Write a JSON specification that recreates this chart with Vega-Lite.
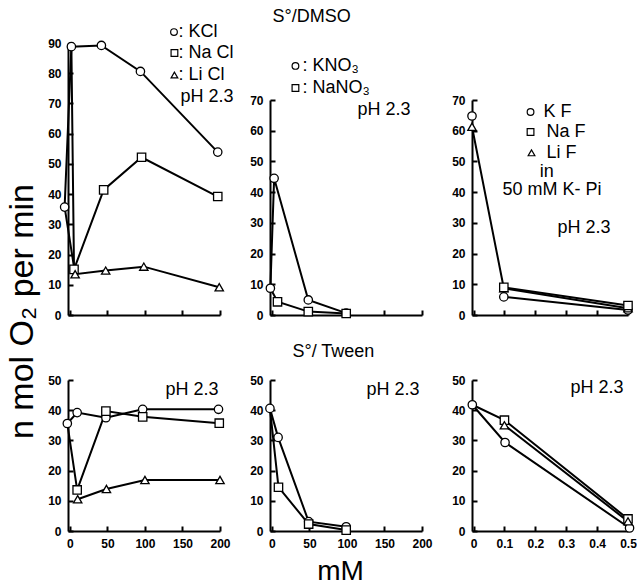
{
  "$schema": "https://vega.github.io/schema/vega-lite/v6.json",
  "padding": {"left": 5, "top": 8, "right": 0, "bottom": 0},
  "background": "white",
  "config": {
    "view": {"stroke": null},
    "font": "Liberation Sans",
    "axis": {"grid": false, "domainColor": "black", "domainWidth": 2, "tickColor": "black", "tickWidth": 2, "tickSize": -5,
      "labelFont": "Liberation Sans", "labelFontWeight": "bold", "labelFontSize": 12, "labelColor": "black", "labelPadding": 12,
      "labelFlush": false, "labelOverlap": false, "titleColor": "black", "titleFont": "Liberation Sans", "titleFontWeight": "normal"}
  },
  "datasets": {
    "obs": [
      {"panel": 1, "cation": "K", "line": "KCl", "role": "m", "x": -7, "y": 35.7},
      {"panel": 1, "cation": "K", "line": "KCl", "role": "m", "x": 2, "y": 88.8},
      {"panel": 1, "cation": "K", "line": "KCl", "role": "m", "x": 42, "y": 89.2},
      {"panel": 1, "cation": "K", "line": "KCl", "role": "m", "x": 94, "y": 80.6},
      {"panel": 1, "cation": "K", "line": "KCl", "role": "m", "x": 197, "y": 53.9},
      {"panel": 1, "cation": "Na", "line": "NaCl", "role": "c", "x": 2, "y": 88.8},
      {"panel": 1, "cation": "Na", "line": "NaCl", "role": "m", "x": 5.5, "y": 15.1},
      {"panel": 1, "cation": "Na", "line": "NaCl", "role": "m", "x": 45, "y": 41.4},
      {"panel": 1, "cation": "Na", "line": "NaCl", "role": "m", "x": 95.5, "y": 52.2},
      {"panel": 1, "cation": "Na", "line": "NaCl", "role": "m", "x": 197, "y": 39.2},
      {"panel": 1, "cation": "Li", "line": "LiCl", "role": "c", "x": -7, "y": 35.7},
      {"panel": 1, "cation": "Li", "line": "LiCl", "role": "m", "x": 7, "y": 13.5},
      {"panel": 1, "cation": "Li", "line": "LiCl", "role": "m", "x": 47.7, "y": 14.7},
      {"panel": 1, "cation": "Li", "line": "LiCl", "role": "m", "x": 98.5, "y": 16},
      {"panel": 1, "cation": "Li", "line": "LiCl", "role": "m", "x": 199, "y": 9.2},

      {"panel": 2, "cation": "K", "line": "KNO3", "role": "m", "x": -2, "y": 8.7},
      {"panel": 2, "cation": "K", "line": "KNO3", "role": "m", "x": 3, "y": 44.5},
      {"panel": 2, "cation": "K", "line": "KNO3", "role": "m", "x": 48.5, "y": 4.9},
      {"panel": 2, "cation": "K", "line": "KNO3", "role": "m", "x": 99, "y": 0.6},
      {"panel": 2, "cation": "Na", "line": "NaNO3", "role": "c", "x": -2, "y": 8.7},
      {"panel": 2, "cation": "Na", "line": "NaNO3", "role": "m", "x": 7.5, "y": 4.3},
      {"panel": 2, "cation": "Na", "line": "NaNO3", "role": "m", "x": 48.5, "y": 1.1},
      {"panel": 2, "cation": "Na", "line": "NaNO3", "role": "m", "x": 99, "y": 0.5},

      {"panel": 3, "cation": "K", "line": "KF control", "role": "m", "x": -0.005, "y": 64.8},
      {"panel": 3, "cation": "K", "line": "KF", "role": "m", "x": 0.098, "y": 5.9},
      {"panel": 3, "cation": "K", "line": "KF", "role": "m", "x": 0.5, "y": 1.6},
      {"panel": 3, "cation": "Li", "line": "LiF", "role": "m", "x": -0.005, "y": 61.3},
      {"panel": 3, "cation": "Li", "line": "LiF", "role": "m", "x": 0.098, "y": 8.7},
      {"panel": 3, "cation": "Li", "line": "LiF", "role": "m", "x": 0.5, "y": 2.2},
      {"panel": 3, "cation": "Na", "line": "NaF", "role": "m", "x": 0.098, "y": 9.0},
      {"panel": 3, "cation": "Na", "line": "NaF", "role": "m", "x": 0.5, "y": 3.1},

      {"panel": 4, "cation": "K", "line": "KCl", "role": "m", "x": -3.4, "y": 35.6},
      {"panel": 4, "cation": "K", "line": "KCl", "role": "m", "x": 9.7, "y": 39.2},
      {"panel": 4, "cation": "K", "line": "KCl", "role": "m", "x": 48, "y": 37.5},
      {"panel": 4, "cation": "K", "line": "KCl", "role": "m", "x": 97, "y": 40.3},
      {"panel": 4, "cation": "K", "line": "KCl", "role": "m", "x": 198, "y": 40.3},
      {"panel": 4, "cation": "Na", "line": "NaCl", "role": "c", "x": -3.4, "y": 35.6},
      {"panel": 4, "cation": "Na", "line": "NaCl", "role": "m", "x": 9.7, "y": 13.6},
      {"panel": 4, "cation": "Na", "line": "NaCl", "role": "m", "x": 48, "y": 39.7},
      {"panel": 4, "cation": "Na", "line": "NaCl", "role": "m", "x": 97, "y": 37.8},
      {"panel": 4, "cation": "Na", "line": "NaCl", "role": "m", "x": 199, "y": 35.7},
      {"panel": 4, "cation": "Li", "line": "LiCl", "role": "m", "x": 10.4, "y": 10.5},
      {"panel": 4, "cation": "Li", "line": "LiCl", "role": "m", "x": 48.7, "y": 13.9},
      {"panel": 4, "cation": "Li", "line": "LiCl", "role": "m", "x": 100, "y": 16.9},
      {"panel": 4, "cation": "Li", "line": "LiCl", "role": "m", "x": 200, "y": 16.9},

      {"panel": 5, "cation": "K", "line": "KNO3", "role": "m", "x": -2.6, "y": 40.6},
      {"panel": 5, "cation": "K", "line": "KNO3", "role": "m", "x": 8.3, "y": 31},
      {"panel": 5, "cation": "K", "line": "KNO3", "role": "m", "x": 49, "y": 3.1},
      {"panel": 5, "cation": "K", "line": "KNO3", "role": "m", "x": 99, "y": 1.4},
      {"panel": 5, "cation": "Na", "line": "NaNO3", "role": "c", "x": -2.6, "y": 40.6},
      {"panel": 5, "cation": "Na", "line": "NaNO3", "role": "m", "x": 8.8, "y": 14.5},
      {"panel": 5, "cation": "Na", "line": "NaNO3", "role": "m", "x": 49, "y": 2.3},
      {"panel": 5, "cation": "Na", "line": "NaNO3", "role": "m", "x": 99, "y": 0.3},

      {"panel": 6, "cation": "K", "line": "KF", "role": "m", "x": -0.004, "y": 41.8},
      {"panel": 6, "cation": "K", "line": "KF", "role": "m", "x": 0.102, "y": 29.3},
      {"panel": 6, "cation": "K", "line": "KF", "role": "m", "x": 0.505, "y": 1.0},
      {"panel": 6, "cation": "Na", "line": "NaF", "role": "c", "x": -0.004, "y": 41.8},
      {"panel": 6, "cation": "Na", "line": "NaF", "role": "m", "x": 0.1, "y": 36.7},
      {"panel": 6, "cation": "Na", "line": "NaF", "role": "m", "x": 0.5, "y": 4.0},
      {"panel": 6, "cation": "Li", "line": "LiF", "role": "m", "x": 0.1, "y": 35.0},
      {"panel": 6, "cation": "Li", "line": "LiF", "role": "m", "x": 0.5, "y": 3.2}
    ],
    "keys": [
      {"panel": 1, "cation": "K", "x": 138.7, "y": 93.6},
      {"panel": 1, "cation": "Na", "x": 139.3, "y": 86.7},
      {"panel": 1, "cation": "Li", "x": 139.3, "y": 79.4},
      {"panel": 2, "cation": "K", "x": 31.4, "y": 81.1},
      {"panel": 2, "cation": "Na", "x": 31.4, "y": 73.9},
      {"panel": 3, "cation": "K", "x": 0.1845, "y": 66.1},
      {"panel": 3, "cation": "Na", "x": 0.1845, "y": 59.6},
      {"panel": 3, "cation": "Li", "x": 0.1877, "y": 52.8}
    ],
    "notes": [
      {"panel": 1, "text": ": KCl", "x": 144.6, "y": 93.6},
      {"panel": 1, "text": ": Na Cl", "x": 144.6, "y": 86.7},
      {"panel": 1, "text": ": Li Cl", "x": 144.6, "y": 79.4},
      {"panel": 1, "text": "pH 2.3", "x": 147.3, "y": 72.1},
      {"panel": 2, "text": "S°/DMSO", "x": 0.8, "y": 97.0},
      {"panel": 2, "text": ": KNO₃", "x": 40.8, "y": 81.1},
      {"panel": 2, "text": ": NaNO₃", "x": 40.8, "y": 73.9},
      {"panel": 2, "text": "pH 2.3", "x": 114, "y": 66.8},
      {"panel": 3, "text": "K F", "x": 0.2266, "y": 66.1},
      {"panel": 3, "text": "Na F", "x": 0.236, "y": 59.6},
      {"panel": 3, "text": "Li F", "x": 0.236, "y": 52.8},
      {"panel": 3, "text": "in", "x": 0.214, "y": 46.6},
      {"panel": 3, "text": "50 mM  K- Pi", "x": 0.094, "y": 40.7},
      {"panel": 3, "text": "pH 2.3", "x": 0.272, "y": 28.3},
      {"panel": 4, "text": "pH 2.3", "x": 127.4, "y": 46.7},
      {"panel": 5, "text": "S°/ Tween", "x": 27.4, "y": 59.3},
      {"panel": 5, "text": "pH 2.3", "x": 126, "y": 46.7},
      {"panel": 6, "text": "pH 2.3", "x": 0.314, "y": 47.4}
    ]
  },
  "concat": [
    {
      "width": 152, "height": 272,
      "encoding": {
        "x": {"field": "x", "type": "quantitative", "scale": {"domain": [-2.5, 200], "nice": false, "zero": false}, "axis": {"values": [0, 50, 100, 150, 200], "labels": false, "title": null}},
        "y": {"field": "y", "type": "quantitative", "scale": {"domain": [0, 90], "nice": false}, "axis": {"values": [0, 10, 20, 30, 40, 50, 60, 70, 80, 90], "title": "n mol O₂ per min", "titleFontSize": 34, "titleX": -35.5, "titleY": 268, "titleAlign": "center", "titleBaseline": "alphabetic", "titleAngle": 270}}
      },
      "layer": [
        {"data": {"name": "obs"}, "transform": [{"filter": "datum.panel == 1"}], "mark": {"type": "line", "color": "black", "strokeWidth": 2}, "encoding": {"detail": {"field": "line"}}},
        {"data": {"name": "obs"}, "transform": [{"filter": "datum.panel == 1 && datum.role == 'm'"}], "mark": {"type": "point", "filled": true, "fill": "white", "stroke": "black", "strokeWidth": 1.3, "size": 70, "opacity": 1}, "encoding": {"shape": {"field": "cation", "scale": {"domain": ["K", "Na", "Li"], "range": ["circle", "square", "triangle-up"]}, "legend": null}}},
        {"data": {"name": "keys"}, "transform": [{"filter": "datum.panel == 1"}], "mark": {"type": "point", "filled": true, "fill": "white", "stroke": "black", "strokeWidth": 1.2, "size": 45, "opacity": 1}, "encoding": {"shape": {"field": "cation", "scale": {"domain": ["K", "Na", "Li"], "range": ["circle", "square", "triangle-up"]}, "legend": null}}},
        {"data": {"name": "notes"}, "transform": [{"filter": "datum.panel == 1"}], "mark": {"type": "text", "align": "left", "baseline": "middle", "fontSize": 18, "font": "Liberation Sans", "color": "black"}, "encoding": {"text": {"field": "text"}}}
      ]
    },
    {
      "width": 152, "height": 272,
      "encoding": {
        "x": {"field": "x", "type": "quantitative", "scale": {"domain": [-2.5, 200], "nice": false, "zero": false}, "axis": {"values": [0, 50, 100, 150, 200], "labels": false, "title": null}},
        "y": {"field": "y", "type": "quantitative", "scale": {"domain": [0, 70], "range": [272, 57], "nice": false}, "axis": {"values": [0, 10, 20, 30, 40, 50, 60, 70], "title": null}}
      },
      "layer": [
        {"data": {"name": "obs"}, "transform": [{"filter": "datum.panel == 2"}], "mark": {"type": "line", "color": "black", "strokeWidth": 2}, "encoding": {"detail": {"field": "line"}}},
        {"data": {"name": "obs"}, "transform": [{"filter": "datum.panel == 2 && datum.role == 'm'"}], "mark": {"type": "point", "filled": true, "fill": "white", "stroke": "black", "strokeWidth": 1.3, "size": 70, "opacity": 1}, "encoding": {"shape": {"field": "cation", "scale": {"domain": ["K", "Na", "Li"], "range": ["circle", "square", "triangle-up"]}, "legend": null}}},
        {"data": {"name": "keys"}, "transform": [{"filter": "datum.panel == 2"}], "mark": {"type": "point", "filled": true, "fill": "white", "stroke": "black", "strokeWidth": 1.2, "size": 45, "opacity": 1}, "encoding": {"shape": {"field": "cation", "scale": {"domain": ["K", "Na", "Li"], "range": ["circle", "square", "triangle-up"]}, "legend": null}}},
        {"data": {"name": "notes"}, "transform": [{"filter": "datum.panel == 2"}], "mark": {"type": "text", "align": "left", "baseline": "middle", "fontSize": 18, "font": "Liberation Sans", "color": "black"}, "encoding": {"text": {"field": "text"}}}
      ]
    },
    {
      "width": 156, "height": 272,
      "encoding": {
        "x": {"field": "x", "type": "quantitative", "scale": {"domain": [-0.005, 0.5], "nice": false, "zero": false}, "axis": {"values": [0, 0.1, 0.2, 0.3, 0.4, 0.5], "labels": false, "title": null}},
        "y": {"field": "y", "type": "quantitative", "scale": {"domain": [0, 70], "range": [272, 57], "nice": false}, "axis": {"values": [0, 10, 20, 30, 40, 50, 60, 70], "title": null}}
      },
      "layer": [
        {"data": {"name": "obs"}, "transform": [{"filter": "datum.panel == 3"}], "mark": {"type": "line", "color": "black", "strokeWidth": 2}, "encoding": {"detail": {"field": "line"}}},
        {"data": {"name": "obs"}, "transform": [{"filter": "datum.panel == 3 && datum.role == 'm'"}], "mark": {"type": "point", "filled": true, "fill": "white", "stroke": "black", "strokeWidth": 1.3, "size": 70, "opacity": 1}, "encoding": {"shape": {"field": "cation", "scale": {"domain": ["K", "Na", "Li"], "range": ["circle", "square", "triangle-up"]}, "legend": null}}},
        {"data": {"name": "keys"}, "transform": [{"filter": "datum.panel == 3"}], "mark": {"type": "point", "filled": true, "fill": "white", "stroke": "black", "strokeWidth": 1.2, "size": 45, "opacity": 1}, "encoding": {"shape": {"field": "cation", "scale": {"domain": ["K", "Na", "Li"], "range": ["circle", "square", "triangle-up"]}, "legend": null}}},
        {"data": {"name": "notes"}, "transform": [{"filter": "datum.panel == 3"}], "mark": {"type": "text", "align": "left", "baseline": "middle", "fontSize": 18, "font": "Liberation Sans", "color": "black"}, "encoding": {"text": {"field": "text"}}}
      ]
    },
    {
      "width": 152, "height": 151,
      "encoding": {
        "x": {"field": "x", "type": "quantitative", "scale": {"domain": [-2.5, 200], "nice": false, "zero": false}, "axis": {"values": [0, 50, 100, 150, 200], "title": null}},
        "y": {"field": "y", "type": "quantitative", "scale": {"domain": [0, 50], "nice": false}, "axis": {"values": [0, 10, 20, 30, 40, 50], "title": null}}
      },
      "layer": [
        {"data": {"name": "obs"}, "transform": [{"filter": "datum.panel == 4"}], "mark": {"type": "line", "color": "black", "strokeWidth": 2}, "encoding": {"detail": {"field": "line"}}},
        {"data": {"name": "obs"}, "transform": [{"filter": "datum.panel == 4 && datum.role == 'm'"}], "mark": {"type": "point", "filled": true, "fill": "white", "stroke": "black", "strokeWidth": 1.3, "size": 70, "opacity": 1}, "encoding": {"shape": {"field": "cation", "scale": {"domain": ["K", "Na", "Li"], "range": ["circle", "square", "triangle-up"]}, "legend": null}}},
        {"data": {"name": "notes"}, "transform": [{"filter": "datum.panel == 4"}], "mark": {"type": "text", "align": "left", "baseline": "middle", "fontSize": 18, "font": "Liberation Sans", "color": "black"}, "encoding": {"text": {"field": "text"}}}
      ]
    },
    {
      "width": 152, "height": 151,
      "encoding": {
        "x": {"field": "x", "type": "quantitative", "scale": {"domain": [-2.5, 200], "nice": false, "zero": false}, "axis": {"values": [0, 50, 100, 150, 200], "title": "mM", "titleFontSize": 28, "titleX": 70, "titleY": 48, "titleAlign": "center", "titleBaseline": "alphabetic"}},
        "y": {"field": "y", "type": "quantitative", "scale": {"domain": [0, 50], "nice": false}, "axis": {"values": [0, 10, 20, 30, 40, 50], "title": null}}
      },
      "layer": [
        {"data": {"name": "obs"}, "transform": [{"filter": "datum.panel == 5"}], "mark": {"type": "line", "color": "black", "strokeWidth": 2}, "encoding": {"detail": {"field": "line"}}},
        {"data": {"name": "obs"}, "transform": [{"filter": "datum.panel == 5 && datum.role == 'm'"}], "mark": {"type": "point", "filled": true, "fill": "white", "stroke": "black", "strokeWidth": 1.3, "size": 70, "opacity": 1}, "encoding": {"shape": {"field": "cation", "scale": {"domain": ["K", "Na", "Li"], "range": ["circle", "square", "triangle-up"]}, "legend": null}}},
        {"data": {"name": "notes"}, "transform": [{"filter": "datum.panel == 5"}], "mark": {"type": "text", "align": "left", "baseline": "middle", "fontSize": 18, "font": "Liberation Sans", "color": "black"}, "encoding": {"text": {"field": "text"}}}
      ]
    },
    {
      "width": 156, "height": 151,
      "encoding": {
        "x": {"field": "x", "type": "quantitative", "scale": {"domain": [-0.005, 0.5], "nice": false, "zero": false}, "axis": {"values": [0, 0.1, 0.2, 0.3, 0.4, 0.5], "format": "~g", "title": null}},
        "y": {"field": "y", "type": "quantitative", "scale": {"domain": [0, 50], "nice": false}, "axis": {"values": [0, 10, 20, 30, 40, 50], "title": null}}
      },
      "layer": [
        {"data": {"name": "obs"}, "transform": [{"filter": "datum.panel == 6"}], "mark": {"type": "line", "color": "black", "strokeWidth": 2}, "encoding": {"detail": {"field": "line"}}},
        {"data": {"name": "obs"}, "transform": [{"filter": "datum.panel == 6 && datum.role == 'm'"}], "mark": {"type": "point", "filled": true, "fill": "white", "stroke": "black", "strokeWidth": 1.3, "size": 70, "opacity": 1}, "encoding": {"shape": {"field": "cation", "scale": {"domain": ["K", "Na", "Li"], "range": ["circle", "square", "triangle-up"]}, "legend": null}}},
        {"data": {"name": "notes"}, "transform": [{"filter": "datum.panel == 6"}], "mark": {"type": "text", "align": "left", "baseline": "middle", "fontSize": 18, "font": "Liberation Sans", "color": "black"}, "encoding": {"text": {"field": "text"}}}
      ]
    }
  ],
  "columns": 3,
  "spacing": {"row": 65, "column": 50},
  "bounds": "flush",
  "align": "each"
}
